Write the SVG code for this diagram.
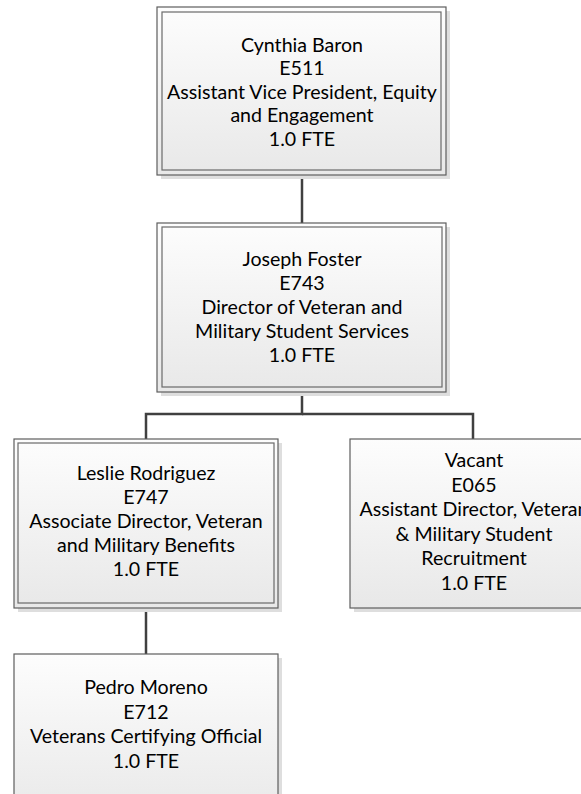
<svg xmlns="http://www.w3.org/2000/svg" width="581" height="794" viewBox="0 0 581 794">
<defs>
<linearGradient id="fill" x1="0" y1="0" x2="0" y2="1">
<stop offset="0" stop-color="#fdfdfd"/>
<stop offset="1" stop-color="#e8e8e8"/>
</linearGradient>
</defs>
<style>
.shadow{fill:#dedede;stroke:none}
.box{fill:url(#fill);stroke:#5e5e5e;stroke-width:1.2}
.inner{fill:none;stroke:#6a6a6a;stroke-width:1.2}
.conn{fill:none;stroke:#404040;stroke-width:2.5}
text{font-family:Lato,"Liberation Sans",sans-serif;font-size:19.6px;fill:#000000;text-anchor:middle}
</style>
<rect width="581" height="794" fill="#ffffff"/>
<g id="connectors">
<line class="conn" x1="302" y1="175" x2="302" y2="223"/>
<polyline class="conn" points="302,392 302,414 146,414 146,439"/>
<polyline class="conn" points="302,414 473,414 473,439"/>
<line class="conn" x1="146" y1="608" x2="146" y2="654"/>
</g>
<g id="cynthia-baron">
<rect class="shadow" x="161" y="11" width="289" height="168"/>
<rect class="box" x="157" y="7" width="289" height="168"/>
<rect class="inner" x="162" y="12" width="279" height="158"/>
<text x="302" y="51.5">Cynthia Baron</text>
<text x="302" y="75">E511</text>
<text x="302" y="98.5">Assistant Vice President, Equity</text>
<text x="302" y="122">and Engagement</text>
<text x="302" y="145.5">1.0 FTE</text>
</g>
<g id="joseph-foster">
<rect class="shadow" x="161" y="227" width="289" height="169"/>
<rect class="box" x="157" y="223" width="289" height="169"/>
<rect class="inner" x="162" y="227" width="280" height="160"/>
<text x="302" y="266">Joseph Foster</text>
<text x="302" y="290">E743</text>
<text x="302" y="314">Director of Veteran and</text>
<text x="302" y="338">Military Student Services</text>
<text x="302" y="362">1.0 FTE</text>
</g>
<g id="leslie-rodriguez">
<rect class="shadow" x="18" y="443" width="264" height="169"/>
<rect class="box" x="14" y="439" width="264" height="169"/>
<rect class="inner" x="18" y="443" width="256" height="160"/>
<text x="146" y="480">Leslie Rodriguez</text>
<text x="146" y="504">E747</text>
<text x="146" y="528">Associate Director, Veteran</text>
<text x="146" y="552">and Military Benefits</text>
<text x="146" y="576">1.0 FTE</text>
</g>
<g id="vacant">
<rect class="shadow" x="354" y="443" width="264" height="169"/>
<rect class="box" x="350" y="439" width="264" height="169"/>
<text x="474" y="467">Vacant</text>
<text x="474" y="491.5">E065</text>
<text x="474" y="516">Assistant Director, Veteran</text>
<text x="474" y="540.5">&amp; Military Student</text>
<text x="474" y="565">Recruitment</text>
<text x="474" y="589.5">1.0 FTE</text>
</g>
<g id="pedro-moreno">
<rect class="shadow" x="18" y="658" width="264" height="169"/>
<rect class="box" x="14" y="654" width="264" height="169"/>
<text x="146" y="694">Pedro Moreno</text>
<text x="146" y="718.5">E712</text>
<text x="146" y="743">Veterans Certifying Official</text>
<text x="146" y="767.5">1.0 FTE</text>
</g>
</svg>
